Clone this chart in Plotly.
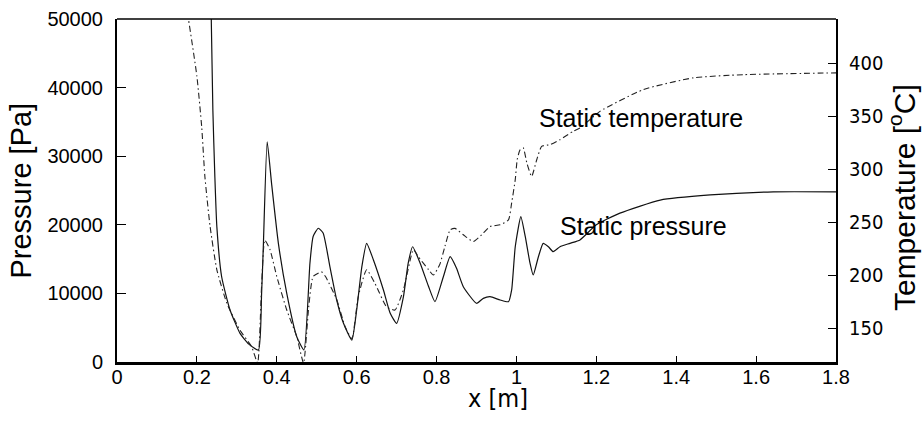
import plotly.graph_objects as go

# Static pressure (solid) : x [m], pressure [Pa]
x_pressure = [0.232, 0.236, 0.240, 0.245, 0.250, 0.262, 0.283, 0.308, 0.330, 0.354,
              0.362, 0.366, 0.376, 0.387, 0.404, 0.425, 0.450, 0.468, 0.483, 0.491,
              0.504, 0.516, 0.533, 0.550, 0.567, 0.588, 0.600, 0.613, 0.625, 0.642,
              0.667, 0.684, 0.700, 0.717, 0.729, 0.740, 0.759, 0.780, 0.796, 0.817,
              0.834, 0.850, 0.867, 0.900, 0.917, 0.934, 0.959, 0.980, 0.988, 0.997,
              1.011, 1.022, 1.034, 1.042, 1.055, 1.067, 1.080, 1.092, 1.109, 1.134,
              1.159, 1.200, 1.259, 1.360, 1.485, 1.643, 1.800]
pressure = [60000, 50000, 36700, 27000, 19700, 12430, 7580, 4180, 2600, 1750,
            10000, 16300, 32100, 26000, 17300, 10000, 3690, 1750, 14400, 18300,
            19500, 18800, 13900, 9040, 5640, 3200, 7580, 13900, 17300, 14870,
            10500, 7100, 5640, 9500, 14400, 16800, 14400, 11000, 8790, 12430,
            15350, 13660, 10980, 8560, 9280, 9520, 9040, 8790, 10500, 16800,
            21200, 18300, 14400, 12680, 15350, 17300, 16800, 16080, 16800, 17300,
            17800, 20000, 21700, 23600, 24350, 24800, 24800]

# Static temperature (dash-dot) : x [m], temperature [°C]
x_temperature = [0.170, 0.179, 0.200, 0.212, 0.220, 0.233, 0.250, 0.275, 0.308, 0.337,
                 0.352, 0.362, 0.370, 0.383, 0.400, 0.425, 0.450, 0.467, 0.480, 0.491,
                 0.512, 0.522, 0.550, 0.571, 0.588, 0.604, 0.625, 0.646, 0.675, 0.696,
                 0.717, 0.742, 0.754, 0.780, 0.792, 0.808, 0.821, 0.834, 0.846, 0.867,
                 0.892, 0.913, 0.934, 0.959, 0.980, 0.988, 0.997, 1.002, 1.009, 1.017,
                 1.026, 1.038, 1.051, 1.063, 1.084, 1.109, 1.142, 1.159, 1.209, 1.318,
                 1.443, 1.568, 1.800]
temperature = [460, 441, 387.5, 340, 293, 246, 205, 173.4, 148, 132.5,
               117, 190, 233, 224, 198.6, 167, 142, 117, 170, 198.6,
               203, 198.6, 177, 151.3, 140, 179.7, 205, 192, 170, 167,
               186, 224, 217.5, 205, 200, 210, 227, 242.7, 244, 238,
               231.6, 238, 245.8, 247.4, 252, 268, 290, 309, 318, 320,
               305.7, 293, 309, 321.4, 323, 327.7, 335.6, 338.7, 354.4, 375,
               386, 389, 390.7]

x_ticks = [0, 0.2, 0.4, 0.6, 0.8, 1.0, 1.2, 1.4, 1.6, 1.8]
p_ticks = [0, 10000, 20000, 30000, 40000, 50000]
p_ticktext = ["0", "10000", "20000", "30000", "40000", "50000"]
t_ticks = [150, 200, 250, 300, 350, 400]

FONT = "Liberation Sans, Arial, sans-serif"
NARROW = "Liberation Sans Narrow, Arial Narrow, DejaVu Sans Condensed, Liberation Sans, sans-serif"

fig = go.Figure()
fig.add_trace(go.Scatter(x=x_pressure, y=pressure, mode="lines",
                         line=dict(color="#111111", width=1.2, shape="spline", smoothing=0.5),
                         name="Static pressure", yaxis="y"))
fig.add_trace(go.Scatter(x=x_temperature, y=temperature, mode="lines",
                         line=dict(color="#222222", width=1.1, dash="6px,3px,1.5px,3px",
                                   shape="spline", smoothing=0.5),
                         name="Static temperature", yaxis="y2"))

fig.update_layout(
    width=923, height=424,
    margin=dict(l=117, r=87, t=19, b=62, autoexpand=False),
    paper_bgcolor="white", plot_bgcolor="white",
    showlegend=False,
    font=dict(family=FONT, color="black"),
    xaxis=dict(range=[0, 1.8], tickvals=x_ticks, ticks="inside", ticklen=6,
               tickwidth=1, tickcolor="black", showline=True, linewidth=2.5,
               linecolor="black", showgrid=False, zeroline=False, automargin=False,
               tickfont=dict(size=20, family=FONT), ticklabelstandoff=-5),
    yaxis=dict(range=[0, 50000], tickvals=p_ticks, ticktext=p_ticktext,
               ticks="inside", ticklen=9, tickwidth=1, tickcolor="black",
               showline=True, linewidth=2, linecolor="black", showgrid=False,
               zeroline=False, automargin=False, tickfont=dict(size=20, family=FONT),
               ticklabelstandoff=8),
    yaxis2=dict(range=[118, 441.5], tickvals=t_ticks, overlaying="y", side="right",
                ticks="inside", ticklen=8, tickwidth=1, tickcolor="black",
                showline=True, linewidth=2, linecolor="black", showgrid=False,
                zeroline=False, automargin=False, tickfont=dict(size=20, family=NARROW),
                ticklabelstandoff=7),
)

# top frame line
fig.add_shape(type="line", xref="paper", yref="paper", x0=0, x1=1, y0=1, y1=1,
              line=dict(color="black", width=1.5))

annos = [
    dict(text="Static temperature", x=0.584, y=0.711, xanchor="left", yanchor="middle",
         font=dict(size=25, family=FONT)),
    dict(text="Static pressure", x=0.613, y=0.397, xanchor="left", yanchor="middle",
         font=dict(size=25, family=FONT)),
    dict(text="Pressure [Pa]", x=-0.1349, y=0.5, textangle=-90, xanchor="center",
         yanchor="middle", font=dict(size=29, family=FONT)),
    dict(text="Temperature [<sup>o</sup>C]", x=1.0918, y=0.478, textangle=-90,
         xanchor="center", yanchor="middle", font=dict(size=30, family=FONT)),
    dict(text="x [m]", x=0.530, y=-0.105, xanchor="center", yanchor="middle",
         font=dict(size=25, family=NARROW)),
]
for a in annos:
    fig.add_annotation(xref="paper", yref="paper", showarrow=False, **a)

# remove the default 8px page margin so the figure fills the window exactly
fig.write_html("out.html", config={"displayModeBar": False},
               post_script="document.body.style.margin='0';")
